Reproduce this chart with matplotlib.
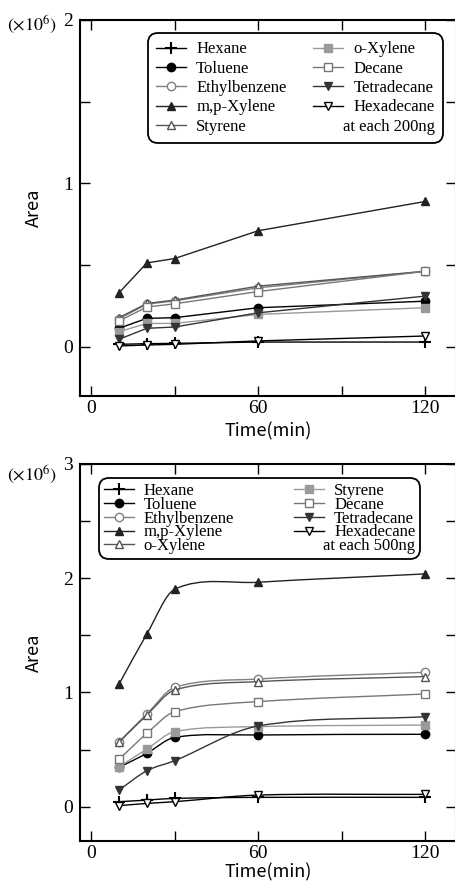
import numpy as np
import matplotlib
matplotlib.use('Agg')
import matplotlib.pyplot as plt
from matplotlib.path import Path
from matplotlib.patches import PathPatch
from matplotlib.lines import Line2D

plt.rcParams['font.family'] = ['Liberation Serif', 'DejaVu Serif']
plt.rcParams['mathtext.fontset'] = 'stix'

time_min = [10, 20, 30, 60, 120]

# at each 200 ng, area (x10^6)
hexane_200 = [0.016, 0.020, 0.022, 0.030, 0.030]
toluene_200 = [0.114, 0.175, 0.179, 0.240, 0.280]
ethylbenzene_200 = [0.172, 0.262, 0.282, 0.362, 0.463]
mp_xylene_200 = [0.331, 0.514, 0.541, 0.711, 0.890]
styrene_200 = [0.179, 0.266, 0.287, 0.372, 0.463]
o_xylene_200 = [0.093, 0.144, 0.144, 0.199, 0.240]
decane_200 = [0.159, 0.244, 0.264, 0.339, 0.463]
tetradecane_200 = [0.047, 0.114, 0.122, 0.209, 0.311]
hexadecane_200 = [0.006, 0.012, 0.016, 0.037, 0.067]

# at each 500 ng, area (x10^6)
hexane_500 = [0.044, 0.058, 0.073, 0.082, 0.082]
toluene_500 = [0.345, 0.467, 0.607, 0.628, 0.634]
ethylbenzene_500 = [0.569, 0.812, 1.045, 1.118, 1.177]
mp_xylene_500 = [1.072, 1.512, 1.904, 1.965, 2.038]
o_xylene_500 = [0.564, 0.803, 1.022, 1.095, 1.139]
styrene_500 = [0.350, 0.505, 0.657, 0.701, 0.715]
decane_500 = [0.415, 0.642, 0.832, 0.920, 0.987]
tetradecane_500 = [0.146, 0.315, 0.403, 0.707, 0.788]
hexadecane_500 = [0.009, 0.029, 0.044, 0.102, 0.108]

# (label, values, color, marker, filled)
series_200 = [
    ('Hexane', hexane_200, 'black', '+', True),
    ('Toluene', toluene_200, 'black', 'o', True),
    ('Ethylbenzene', ethylbenzene_200, '#808080', 'o', False),
    ('m,p-Xylene', mp_xylene_200, '#222222', '^', True),
    ('Styrene', styrene_200, '#555555', '^', False),
    ('o-Xylene', o_xylene_200, '#9a9a9a', 's', True),
    ('Decane', decane_200, '#777777', 's', False),
    ('Tetradecane', tetradecane_200, '#333333', 'v', True),
    ('Hexadecane', hexadecane_200, 'black', 'v', False),
]
series_500 = [
    ('Hexane', hexane_500, 'black', '+', True),
    ('Toluene', toluene_500, 'black', 'o', True),
    ('Ethylbenzene', ethylbenzene_500, '#808080', 'o', False),
    ('m,p-Xylene', mp_xylene_500, '#222222', '^', True),
    ('o-Xylene', o_xylene_500, '#555555', '^', False),
    ('Styrene', styrene_500, '#9a9a9a', 's', True),
    ('Decane', decane_500, '#777777', 's', False),
    ('Tetradecane', tetradecane_500, '#333333', 'v', True),
    ('Hexadecane', hexadecane_500, 'black', 'v', False),
]


def marker_kw(color, marker, filled):
    ms = 9 if marker == '+' else 6
    return dict(color=color, marker=marker, markersize=ms,
                markerfacecolor=color if filled else 'white',
                markeredgecolor=color, markeredgewidth=1.5 if marker == '+' else 1.0)


def smooth_path(x, y):
    # cubic bezier through the points (curve drawing only)
    x = np.asarray(x, float)
    y = np.asarray(y, float)
    m = np.empty(len(x))
    m[0] = (y[1] - y[0]) / (x[1] - x[0])
    m[-1] = (y[-1] - y[-2]) / (x[-1] - x[-2])
    m[1:-1] = (y[2:] - y[:-2]) / (x[2:] - x[:-2])
    verts = [(x[0], y[0])]
    codes = [Path.MOVETO]
    for i in range(len(x) - 1):
        h = x[i + 1] - x[i]
        verts += [(x[i] + h / 3, y[i] + m[i] * h / 3),
                  (x[i + 1] - h / 3, y[i + 1] - m[i + 1] * h / 3),
                  (x[i + 1], y[i + 1])]
        codes += [Path.CURVE4] * 3
    return Path(verts, codes)


def style_axes(ax, ymax, ypos_label):
    ax.set_xlim(-4, 131)
    ax.set_ylim(-0.3, ymax)
    ax.set_xticks([0, 60, 120])
    ax.set_xticks([30, 90], minor=True)
    ax.set_yticks(range(0, int(ymax) + 1))
    ax.set_yticks(np.arange(0.5, ymax, 1.0), minor=True)
    ax.tick_params(which='both', direction='in', top=True, right=True,
                   length=7, width=1.0, labelsize=14)
    ax.tick_params(axis='x', pad=3)
    ax.tick_params(axis='y', pad=5)
    for s in ax.spines.values():
        s.set_linewidth(1.5)
    ax.set_xlabel('Time(min)', family=['Noto Sans CJK JP', 'DejaVu Sans'], fontsize=13)
    ax.set_ylabel('Area', family=['Noto Sans CJK JP', 'DejaVu Sans'], fontsize=13)
    ax.xaxis.set_label_coords(0.5, ypos_label)
    ax.yaxis.set_label_coords(-0.098, 0.5)


def add_legend(ax, handles, anchor, loc, spacing, colsp, bpad):
    leg = ax.legend(handles=handles, ncol=2, loc=loc, bbox_to_anchor=anchor,
                    borderaxespad=0, fontsize=12, handlelength=1.8,
                    handletextpad=0.6, columnspacing=colsp, labelspacing=spacing,
                    borderpad=bpad, fancybox=True, framealpha=1, edgecolor='black')
    leg.get_frame().set_linewidth(1.3)
    leg.get_frame().set_boxstyle('round', pad=0, rounding_size=0.6)
    return leg


def add_note(fig, ax, leg, note):
    # note sits in the empty 5th row of the right legend column
    fig.canvas.draw()
    texts = leg.get_texts()
    row5 = texts[4].get_window_extent()
    right = texts[8].get_window_extent().x1
    x, y = ax.transAxes.inverted().transform((right, (row5.y0 + row5.y1) / 2))
    ax.text(x, y, note, transform=ax.transAxes, ha='right', va='center',
            fontsize=12, zorder=10)


fig = plt.figure(figsize=(4.55, 8.81), dpi=100)
W, H = 455, 881
ax1 = fig.add_axes([80 / W, (H - 396) / H, 376 / W, 376 / H])
ax2 = fig.add_axes([80 / W, (H - 841) / H, 376 / W, 377 / H])

# top: 200 ng, straight segments
handles = []
for i, (name, vals, color, marker, filled) in enumerate(series_200):
    line, = ax1.plot(time_min, vals, linewidth=1.0, label=name, zorder=2 + i,
                     **marker_kw(color, marker, filled))
    handles.append(line)
style_axes(ax1, 2, -0.07)
leg1 = add_legend(ax1, handles, (0.965, 0.965), 'upper right', 0.2, 1.6, 0.5)

# bottom: 500 ng, smooth curves
handles = []
for i, (name, vals, color, marker, filled) in enumerate(series_500):
    ax2.add_patch(PathPatch(smooth_path(time_min, vals), facecolor='none',
                            edgecolor=color, linewidth=1.0, zorder=2 + i))
    ax2.plot(time_min, vals, linestyle='none', zorder=2 + i,
             **marker_kw(color, marker, filled))
    handles.append(Line2D([], [], linewidth=1.0, label=name,
                          **marker_kw(color, marker, filled)))
style_axes(ax2, 3, -0.06)
leg2 = add_legend(ax2, handles, (0.05, 0.963), 'upper left', -0.13, 3.6, 0.3)

fig.text(57 / W, 1 - 25 / H, r'$(\times10^{6})$', ha='right', va='center', fontsize=13)
fig.text(57 / W, 1 - 475 / H, r'$(\times10^{6})$', ha='right', va='center', fontsize=13)

add_note(fig, ax1, leg1, 'at each 200ng')
add_note(fig, ax2, leg2, 'at each 500ng')

fig.savefig('out.png', dpi=100)
